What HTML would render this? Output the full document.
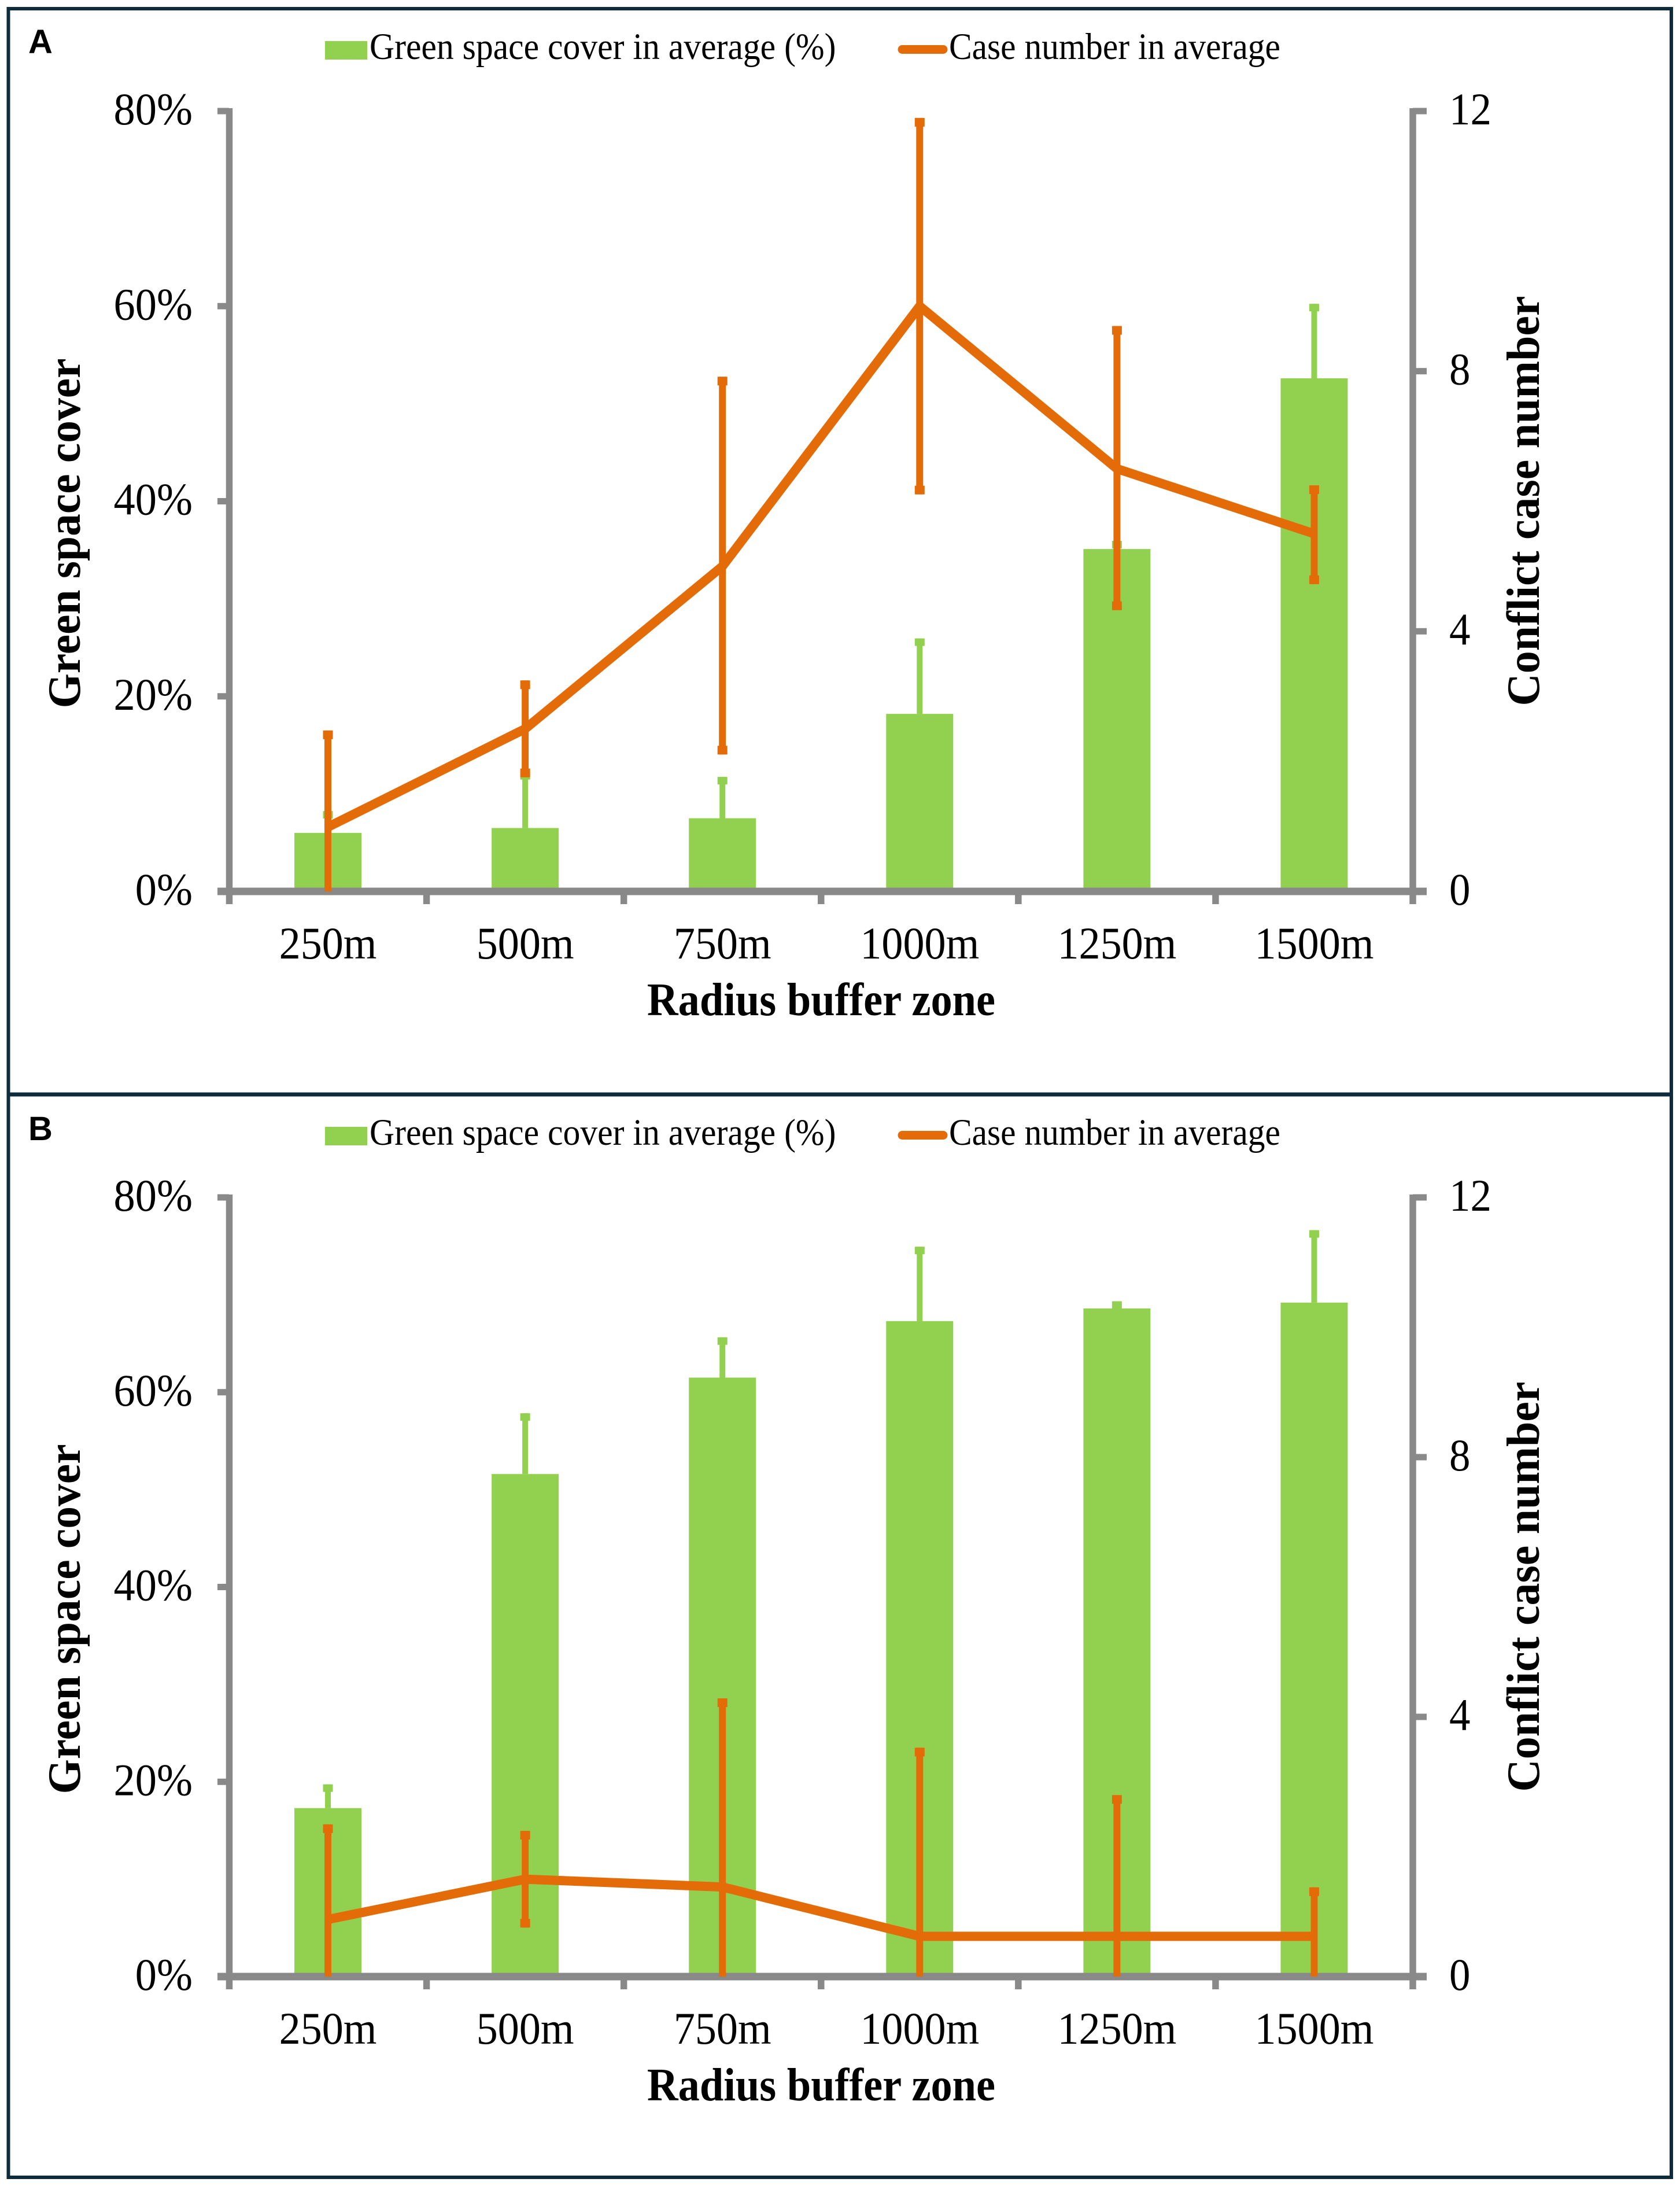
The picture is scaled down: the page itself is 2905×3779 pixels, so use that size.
<!DOCTYPE html>
<html lang="en">
<head>
<meta charset="utf-8">
<title>Green space cover and conflict case number by radius buffer zone</title>
<style>
html,body{margin:0;padding:0;background:#fff;width:2905px;height:3779px;overflow:hidden}
svg{display:block}
</style>
</head>
<body>
<svg id="figure" xmlns="http://www.w3.org/2000/svg" width="2905" height="3779" viewBox="0 0 2905 3779"></svg>
<script>
const categories = ['250m','500m','750m','1000m','1250m','1500m'];
const leftTickValues = [0,20,40,60,80];
const leftTickLabels = ['0%','20%','40%','60%','80%'];
const rightTickValues = [0,4,8,12];
const rightTickLabels = ['0','4','8','12'];
const xAxisTitle = 'Radius buffer zone';
const leftAxisTitle = 'Green space cover';
const rightAxisTitle = 'Conflict case number';
const legendBarLabel = 'Green space cover in average (%)';
const legendLineLabel = 'Case number in average';

const greenMeanA = [6.0,6.5,7.5,18.2,35.1,52.6];
const greenUpperA = [8.0,12.0,11.5,25.7,35.7,60.0];
const caseMeanA = [0.99,2.5,5.0,9.0,6.5,5.5];
const caseUpperA = [2.43,3.2,7.87,11.85,8.65,6.2];
const caseLowerA = [0,1.8,2.15,6.15,4.37,4.77];

const greenMeanB = [17.3,51.6,61.5,67.3,68.6,69.2];
const greenUpperB = [19.5,57.6,65.4,74.7,69.1,76.4];
const caseMeanB = [0.88,1.5,1.38,0.62,0.62,0.62];
const caseUpperB = [2.3,2.2,4.24,3.48,2.75,1.33];
const caseLowerB = [0,0.8,0,0,0,0];

const svg = document.getElementById('figure');
const NS = 'http://www.w3.org/2000/svg';
const GREEN = '#92D14F', ORANGE = '#E36C09', GRAY = '#898989', FRAME = '#0E2C3B';
const SERIF = '"Liberation Serif", serif', SANS = '"Liberation Sans", sans-serif';

function shape(parent, tag, attrs, name) {
  const el = document.createElementNS(NS, tag);
  for (const k in attrs) el.setAttribute(k, attrs[k]);
  
  
  parent.appendChild(el);
  return el;
}
function text(parent, str, x, y, size, anchor, weight, sx, rot, name, family) {
  const el = shape(parent, 'text', {
    transform: 'translate(' + x + ',' + y + ') rotate(' + rot + ') scale(' + sx + ',1)',
    'font-family': family || SERIF, 'font-size': size, 'font-weight': weight,
    'text-anchor': anchor, fill: '#000'
  }, name);
  el.textContent = str;
  return el;
}
function box(parent, x, y, w, h, fill, name) {
  return shape(parent, 'rect', {x: x, y: y, width: w, height: h, fill: fill}, name);
}

/* frame */
shape(svg, 'rect', {x: 14.5, y: 15, width: 2875.5, height: 3749, fill: '#fff', stroke: FRAME, 'stroke-width': 6}, 'figure-frame');
box(svg, 12, 1888.5, 2881, 7, FRAME, 'panel-divider');

const AX_L = 396.5, AX_R = 2443;
const STEP = (AX_R - AX_L) / categories.length;
const xCenter = i => AX_L + STEP * (i + 0.5);

function panel(id, letter, letterY, y0, y80, dy, greenMean, greenUpper, caseMean, caseUpper, caseLower) {
  const g = shape(svg, 'g', {}, 'panel-' + id);
  const yLeft = v => y0 + (y80 - y0) * v / 80;
  const yRight = v => y0 + (y80 - y0) * v / 12;

  text(g, letter, 49, letterY, 58, 'start', 700, 1, 0, 'panel-label-' + id, SANS);

  /* legend */
  box(g, 562, 71 + dy, 73, 32, GREEN, 'legend-swatch-green-space');
  text(g, legendBarLabel, 639, 102 + dy, 65, 'start', 400, 0.918, 0, 'legend-label-green-space');
  shape(g, 'line', {x1: 1560, y1: 85.5 + dy, x2: 1631, y2: 85.5 + dy, stroke: ORANGE, 'stroke-width': 15, 'stroke-linecap': 'round'}, 'legend-swatch-case-number');
  text(g, legendLineLabel, 1641, 102 + dy, 65, 'start', 400, 0.915, 0, 'legend-label-case-number');

  /* bars + green error bars */
  categories.forEach((c, i) => {
    const x = xCenter(i);
    box(g, x - 58, yLeft(greenMean[i]), 116, y0 - yLeft(greenMean[i]), GREEN, 'green-bar-' + c);
    box(g, x - 5, yLeft(greenUpper[i]) - 4, 10, yLeft(greenMean[i]) - yLeft(greenUpper[i]) + 4, GREEN, 'green-error-' + c);
    box(g, x - 8.5, yLeft(greenUpper[i]) - 4, 17, 13, GREEN, 'green-error-cap-' + c);
  });

  /* axes */
  box(g, AX_L - 5.75, y80 - 5, 11.5, y0 + 22 - y80 + 5, GRAY, 'left-axis-line');
  box(g, AX_R - 5.75, y80 - 5, 11.5, y0 + 22 - y80 + 5, GRAY, 'right-axis-line');
  box(g, 376, y0 - 6.5, 2467 - 376, 13, GRAY, 'x-axis-line');
  leftTickValues.forEach((v, i) => {
    box(g, 376, yLeft(v) - 5.5, 20, 11, GRAY, 'left-tick-' + v);
    text(g, leftTickLabels[i], 333, yLeft(v) + 23, 78, 'end', 400, 0.955, 0, 'left-tick-label-' + v);
  });
  rightTickValues.forEach((v, i) => {
    box(g, AX_R, yRight(v) - 5.5, 24, 11, GRAY, 'right-tick-' + v);
    text(g, rightTickLabels[i], 2506, yRight(v) + 23, 78, 'start', 400, 0.935, 0, 'right-tick-label-' + v);
  });
  for (let i = 1; i < categories.length; i++) {
    box(g, AX_L + STEP * i - 5.75, y0, 11.5, 22, GRAY, 'x-tick-' + i);
  }
  categories.forEach((c, i) => {
    text(g, c, xCenter(i), y0 + 116, 78, 'middle', 400, 0.95, 0, 'x-tick-label-' + c);
  });

  /* orange error bars */
  categories.forEach((c, i) => {
    const x = xCenter(i);
    const top = yRight(caseUpper[i]) - 5;
    const low = caseLower[i] > 0 ? yRight(caseLower[i]) + 5 : yRight(caseLower[i]);
    box(g, x - 6, top, 12, low - top, ORANGE, 'case-error-' + c);
    box(g, x - 8.5, top, 17, 15, ORANGE, 'case-error-cap-upper-' + c);
    if (caseLower[i] > 0) {
      box(g, x - 8.5, low - 15, 17, 15, ORANGE, 'case-error-cap-lower-' + c);
    }
  });

  /* orange line */
  const pts = caseMean.map((v, i) => xCenter(i) + ',' + yRight(v)).join(' ');
  shape(g, 'polyline', {points: pts, fill: 'none', stroke: ORANGE, 'stroke-width': 16, 'stroke-linejoin': 'round'}, 'case-number-line');

  /* titles */
  text(g, xAxisTitle, 1420, y0 + 214, 80, 'middle', 700, 0.93, 0, 'x-axis-title');
  text(g, leftAxisTitle, 138, 922 + dy, 80, 'middle', 700, 0.968, -90, 'left-axis-title');
  text(g, rightAxisTitle, 2661, 866 + dy, 80, 'middle', 700, 0.973, -90, 'right-axis-title');
}

panel('a', 'A', 92, 1541, 192, 0, greenMeanA, greenUpperA, caseMeanA, caseUpperA, caseLowerA);
panel('b', 'B', 1971, 3417, 2070, 1877, greenMeanB, greenUpperB, caseMeanB, caseUpperB, caseLowerB);
</script>
</body>
</html>
